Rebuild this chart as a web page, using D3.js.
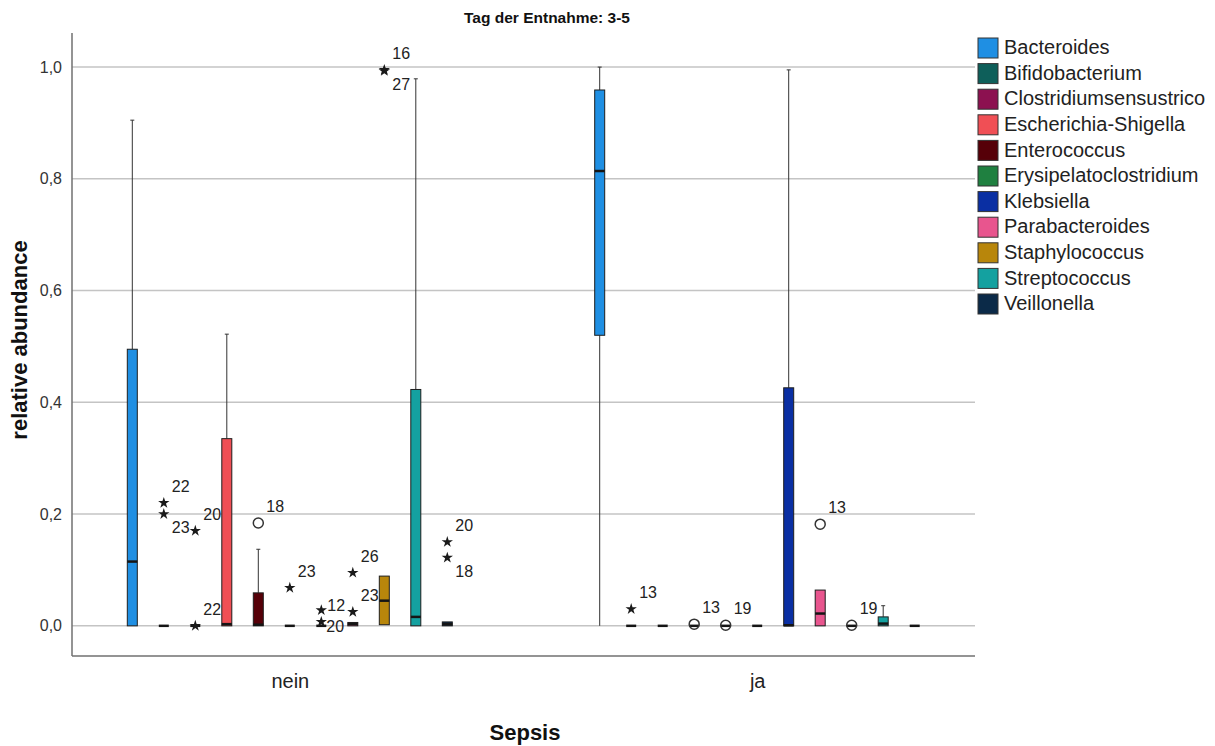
<!DOCTYPE html>
<html>
<head>
<meta charset="utf-8">
<script src="https://cdn.jsdelivr.net/npm/d3@7"></script>
<style>
  html, body { margin: 0; padding: 0; background: #ffffff; }
  svg { display: block; font-family: "Liberation Sans", Arial, sans-serif; }
</style>
</head>
<body>
<svg id="chart" width="1215" height="746"></svg>
<script>
// Taxa shown in each Sepsis group, with their colours
const taxa = ["Bacteroides", "Bifidobacterium", "Clostridiumsensustrico", "Escherichia-Shigella",
  "Enterococcus", "Erysipelatoclostridium", "Klebsiella", "Parabacteroides",
  "Staphylococcus", "Streptococcus", "Veillonella"];
const taxonColors = ["#1f8fe3", "#0e5f5a", "#8c1150", "#f04f55", "#560008", "#1f8040",
  "#0a2fa3", "#e8558e", "#b8860b", "#14a1a0", "#0b2a48"];
const groups = ["nein", "ja"];
const yTicks = [0, 0.2, 0.4, 0.6, 0.8, 1.0];

// Box summaries per group, in taxa order
const neinLow    = [0, 0, 0, 0, 0, 0, 0, 0, 0.002, 0, 0];
const neinQ1     = [0, 0, 0, 0, 0, 0, 0, 0, 0.002, 0, 0];
const neinMedian = [0.115, 0, 0, 0.003, 0.002, 0, 0, 0.003, 0.045, 0.016, 0.003];
const neinQ3     = [0.495, 0, 0, 0.335, 0.059, 0, 0, 0.006, 0.089, 0.423, 0.007];
const neinHigh   = [0.905, 0, 0, 0.522, 0.137, 0, 0, 0.006, 0.089, 0.979, 0.007];

const jaLow    = [0, 0, 0, 0, 0, 0, 0, 0, 0, 0, 0];
const jaQ1     = [0.52, 0, 0, 0, 0, 0, 0, 0, 0, 0, 0];
const jaMedian = [0.814, 0, 0, 0, 0, 0, 0.001, 0.022, 0, 0.004, 0];
const jaQ3     = [0.959, 0, 0, 0, 0, 0, 0.426, 0.064, 0, 0.016, 0];
const jaHigh   = [1.0, 0, 0, 0, 0, 0, 0.995, 0.064, 0, 0.036, 0];

// Outliers (circle) and extreme values (star) with their case numbers
const outlierGroup = ["nein", "nein", "nein", "nein", "nein", "nein", "nein", "nein", "nein", "nein",
  "nein", "nein", "nein", "nein", "ja", "ja", "ja", "ja", "ja"];
const outlierTaxon = ["Bifidobacterium", "Bifidobacterium", "Clostridiumsensustrico", "Clostridiumsensustrico",
  "Enterococcus", "Erysipelatoclostridium", "Klebsiella", "Klebsiella", "Parabacteroides", "Parabacteroides",
  "Staphylococcus", "Staphylococcus", "Veillonella", "Veillonella",
  "Bifidobacterium", "Escherichia-Shigella", "Enterococcus", "Parabacteroides", "Staphylococcus"];
const outlierValue = [0.22, 0.2, 0.17, 0, 0.184, 0.068, 0.028, 0.007, 0.095, 0.025,
  0.995, 0.993, 0.15, 0.122, 0.03, 0.003, 0.001, 0.182, 0.001];
const outlierKind = ["star", "star", "star", "star", "circle", "star", "star", "star", "star", "star",
  "star", "star", "star", "star", "star", "circle", "circle", "circle", "circle"];
const outlierCase = ["22", "23", "20", "22", "18", "23", "12", "20", "26", "23",
  "16", "27", "20", "18", "13", "13", "19", "13", "19"];
// where each case number sits relative to its marker
const outlierLabelSide = ["ur", "lr", "ur", "ur", "ur", "ur", "r", "rd", "ur", "ur",
  "ur", "lr", "ur", "lr", "ur", "ur", "ur", "ur", "ur"];
const labelOffsets = { ur: [8, -15], lr: [8, 15], r: [6, -3], rd: [5, 6] };

const svg = d3.select("#chart");
const plot = { left: 72, right: 975, top: 33, bottom: 656 };

const y = d3.scaleLinear().domain([-0.054, 1.061]).range([plot.bottom, plot.top]);
const xGroup = d3.scalePoint().domain(groups).range([plot.left, plot.right]).padding(0.466);
const xTaxon = d3.scalePoint().domain(taxa).range([-157.5, 157.5]);
const color = d3.scaleOrdinal().domain(taxa).range(taxonColors);

// Gridlines
svg.append("g")
  .selectAll("line")
  .data(yTicks)
  .join("line")
  .attr("x1", plot.left).attr("x2", plot.right)
  .attr("y1", d => y(d)).attr("y2", d => y(d))
  .attr("stroke", "#c4c4c4").attr("stroke-width", 1.5);

// Y axis
const yAxis = svg.append("g")
  .attr("transform", `translate(${plot.left},0)`)
  .call(d3.axisLeft(y).tickValues(yTicks).tickSize(0).tickPadding(10)
    .tickFormat(d => d3.format(".1f")(d).replace(".", ",")));
yAxis.select(".domain").attr("stroke", "#707070").attr("stroke-width", 1.5)
  .attr("d", `M0,${plot.top}V${plot.bottom}`);
yAxis.selectAll("text").attr("font-size", 16).attr("fill", "#333").attr("font-family", "Liberation Sans, Arial, sans-serif");

// X axis
const xAxis = svg.append("g")
  .attr("transform", `translate(0,${plot.bottom})`)
  .call(d3.axisBottom(xGroup).tickSize(0).tickPadding(18));
xAxis.select(".domain").attr("stroke", "#707070").attr("stroke-width", 1.5)
  .attr("d", `M${plot.left},0H${plot.right}`);
xAxis.selectAll("text").attr("font-size", 20).attr("fill", "#222").attr("font-family", "Liberation Sans, Arial, sans-serif");

// Build box records
const boxes = [];
groups.forEach(g => {
  const src = g === "nein"
    ? [neinLow, neinQ1, neinMedian, neinQ3, neinHigh]
    : [jaLow, jaQ1, jaMedian, jaQ3, jaHigh];
  taxa.forEach((t, i) => {
    boxes.push({ group: g, taxon: t, low: src[0][i], q1: src[1][i], median: src[2][i], q3: src[3][i], high: src[4][i] });
  });
});

const boxWidth = 10;
const capWidth = 4;
const cx = d => xGroup(d.group) + xTaxon(d.taxon);

const boxG = svg.append("g").selectAll("g").data(boxes).join("g");

// whiskers
boxG.filter(d => d.high > d.q3).append("line")
  .attr("x1", cx).attr("x2", cx)
  .attr("y1", d => y(d.q3)).attr("y2", d => y(d.high))
  .attr("stroke", "#333").attr("stroke-width", 1);
boxG.filter(d => d.high > d.q3).append("line")
  .attr("x1", d => cx(d) - capWidth / 2).attr("x2", d => cx(d) + capWidth / 2)
  .attr("y1", d => y(d.high)).attr("y2", d => y(d.high))
  .attr("stroke", "#333").attr("stroke-width", 1);
boxG.filter(d => d.q1 > d.low).append("line")
  .attr("x1", cx).attr("x2", cx)
  .attr("y1", d => y(d.q1)).attr("y2", d => y(d.low))
  .attr("stroke", "#333").attr("stroke-width", 1);

// boxes
boxG.append("rect")
  .attr("x", d => cx(d) - boxWidth / 2)
  .attr("width", boxWidth)
  .attr("y", d => y(d.q3))
  .attr("height", d => y(d.q1) - y(d.q3))
  .attr("fill", d => color(d.taxon))
  .attr("stroke", "#1e1e1e").attr("stroke-width", 1);

// medians
boxG.append("line")
  .attr("x1", d => cx(d) - boxWidth / 2).attr("x2", d => cx(d) + boxWidth / 2)
  .attr("y1", d => y(d.median)).attr("y2", d => y(d.median))
  .attr("stroke", "#151515").attr("stroke-width", 2.5);

// outliers
const outliers = outlierValue.map((v, i) => ({
  group: outlierGroup[i], taxon: outlierTaxon[i], value: v,
  kind: outlierKind[i], label: outlierCase[i], side: outlierLabelSide[i]
}));

const outG = svg.append("g").selectAll("g").data(outliers).join("g")
  .attr("transform", d => `translate(${cx(d)},${y(d.value)})`);

outG.filter(d => d.kind === "star").append("path")
  .attr("d", d3.symbol(d3.symbolStar, 40))
  .attr("fill", "#1a1a1a");
outG.filter(d => d.kind === "circle").append("circle")
  .attr("r", 5)
  .attr("fill", "none")
  .attr("stroke", "#333").attr("stroke-width", 1.5);

outG.append("text")
  .attr("x", d => labelOffsets[d.side][0])
  .attr("y", d => labelOffsets[d.side][1])
  .attr("dominant-baseline", "middle")
  .attr("font-size", 16)
  .attr("fill", "#222")
  .text(d => d.label);

// Title and axis titles
svg.append("text")
  .attr("x", 547).attr("y", 23)
  .attr("text-anchor", "middle")
  .attr("font-size", 15.5).attr("font-weight", "bold").attr("fill", "#111")
  .text("Tag der Entnahme: 3-5");

svg.append("text")
  .attr("transform", "translate(27,340) rotate(-90)")
  .attr("text-anchor", "middle")
  .attr("font-size", 22).attr("font-weight", "bold").attr("fill", "#111")
  .text("relative abundance");

svg.append("text")
  .attr("x", 525).attr("y", 740)
  .attr("text-anchor", "middle")
  .attr("font-size", 22).attr("font-weight", "bold").attr("fill", "#111")
  .text("Sepsis");

// Legend
const legend = svg.append("g").attr("transform", "translate(978,48)");
const legendItem = legend.selectAll("g").data(taxa).join("g")
  .attr("transform", (d, i) => `translate(0,${i * 25.6})`);
legendItem.append("rect")
  .attr("x", 0).attr("y", -10).attr("width", 20).attr("height", 20)
  .attr("fill", d => color(d))
  .attr("stroke", "#333").attr("stroke-width", 1);
legendItem.append("text")
  .attr("x", 26).attr("y", 1)
  .attr("dominant-baseline", "middle")
  .attr("font-size", 20).attr("fill", "#222")
  .text(d => d);
</script>
</body>
</html>
